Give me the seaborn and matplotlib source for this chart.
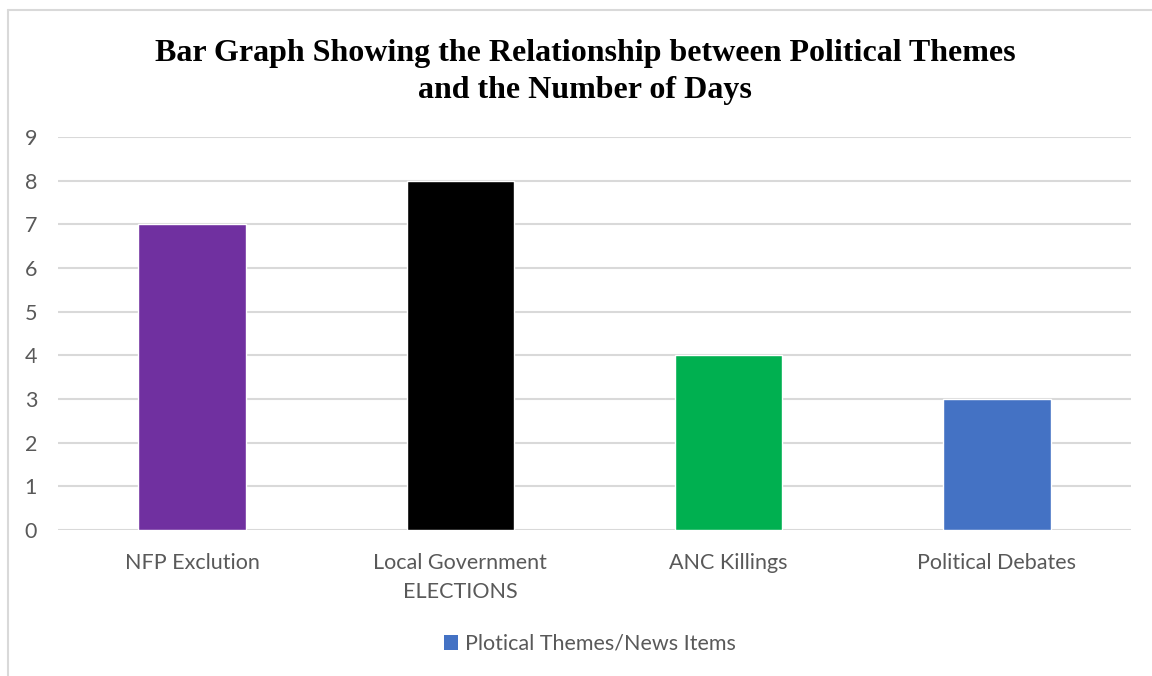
import matplotlib
matplotlib.use("Agg")
import matplotlib.pyplot as plt
import seaborn as sns
import pandas as pd
from matplotlib.lines import Line2D
from matplotlib.patches import Patch

categories = ["NFP Exclution", "Local Government\nELECTIONS", "ANC Killings", "Political Debates"]
days = [7, 8, 4, 3]
bar_colors = ["#7030A0", "#000000", "#00B050", "#4472C4"]
yticks = [0, 1, 2, 3, 4, 5, 6, 7, 8, 9]
legend_label = "Plotical Themes/News Items"
title = "Bar Graph Showing the Relationship between Political Themes\nand the Number of Days"

sns.set_theme(style="white")
plt.rcParams["font.family"] = ["Lato", "DejaVu Sans"]

df = pd.DataFrame({"theme": categories, "days": days})

fig = plt.figure(figsize=(11.52, 6.76), dpi=100)
ax = fig.add_axes([58/1152, 1-530/676, (1131-58)/1152, (530-137)/676])

sns.barplot(data=df, x="theme", y="days", hue="theme", palette=bar_colors,
            width=0.40, legend=False, ax=ax, saturation=1, zorder=3)

ax.set_ylim(0, 9)
ax.set_yticks(yticks)
ax.set_xlim(-0.5, 3.5)
ax.yaxis.grid(True, color="#D9D9D9", linewidth=1.5, zorder=0)
ax.set_axisbelow(True)
for s in ax.spines.values():
    s.set_visible(False)
ax.set_xlabel("")
ax.set_ylabel("")
ax.tick_params(axis="both", length=0, labelsize=15.5, labelcolor="#595959")
ax.tick_params(axis="x", pad=16.5)
ax.tick_params(axis="y", pad=15)
for lbl in ax.get_xticklabels():
    lbl.set_linespacing(1.55)
    lbl.set_verticalalignment("top")

fig.text(585/1152, 1-72/676, title, ha="center", va="center",
         family=["Liberation Serif"], fontweight="bold", fontsize=23,
         linespacing=1.35, color="black")

handle = Patch(facecolor="#4472C4", edgecolor="none")
fig.legend([handle], [legend_label], loc="center", bbox_to_anchor=(590/1152, 1-644/676),
           frameon=False, fontsize=15.5, labelcolor="#595959",
           handlelength=0.65, handleheight=0.65, handletextpad=0.3)

# chart border (top and left visible)
fig.add_artist(Line2D([8/1152, 1.0], [1-10/676, 1-10/676], color="#D9D9D9", linewidth=1.5,
                      transform=fig.transFigure))
fig.add_artist(Line2D([8/1152, 8/1152], [0.0, 1-10/676], color="#D9D9D9", linewidth=1.5,
                      transform=fig.transFigure))

fig.savefig("out.png", dpi=100)
